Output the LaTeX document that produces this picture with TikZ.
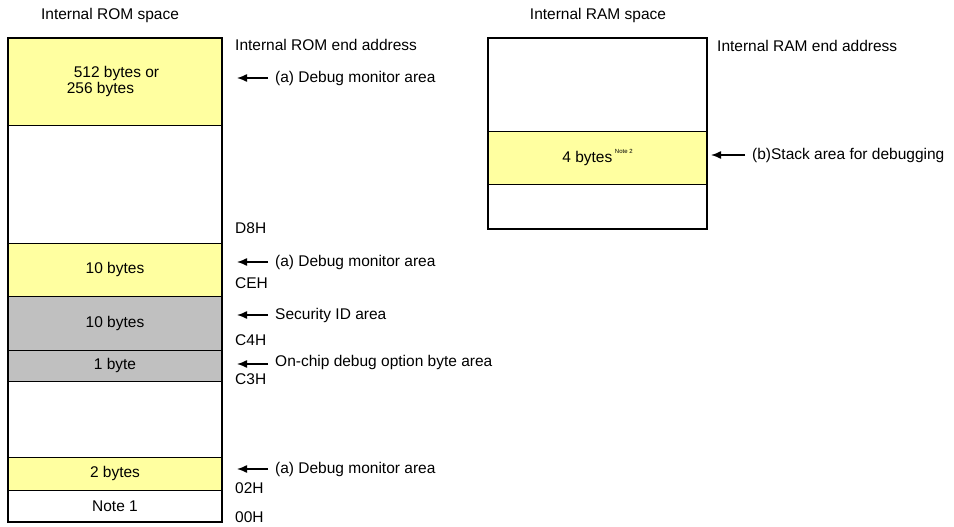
\documentclass[tikz,border=0pt]{standalone}
\usepackage{fontspec}
\setmainfont{Liberation Sans}
\usetikzlibrary{arrows.meta}
\definecolor{monyellow}{RGB}{255,255,160}
\definecolor{secgray}{RGB}{192,192,192}
\tikzset{
    seg/.style={draw,line width=1pt,inner sep=0pt,outer sep=0pt,anchor=north west},
    note/.style={inner sep=1pt,anchor=west},
    pointer/.style={-{Latex[length=10pt,width=8pt]},line width=1.4pt,shorten <=6pt},
    every node/.append style={font=\fontsize{15.5}{18}\selectfont}
}
\begin{document}
\begin{tikzpicture}[x=1pt,y=-1pt]
        \useasboundingbox (0,0) rectangle (954,527);
        \node (RomTitle) at (110,15) {Internal ROM space};
        \node [seg,fill=monyellow,minimum width=214pt,minimum height=87pt] (RomMonTop) at (8,38) {};
        \node [align=left] at ([xshift=-2pt]RomMonTop.center) {\hspace*{7pt}512 bytes or\\[-2pt]256 bytes};
        \node [seg,minimum width=214pt,minimum height=118pt] (RomFreeHigh) at (RomMonTop.south west) {};
        \node [seg,fill=monyellow,minimum width=214pt,minimum height=53.7pt] (RomMonMid) at (RomFreeHigh.south west) {10 bytes};
        \node [seg,fill=secgray,minimum width=214pt,minimum height=53.3pt] (RomSecId) at (RomMonMid.south west) {10 bytes};
        \node [seg,fill=secgray,minimum width=214pt,minimum height=31.7pt] (RomOcd) at (RomSecId.south west) {1 byte};
        \node [seg,minimum width=214pt,minimum height=75.3pt] (RomFreeLow) at (RomOcd.south west) {};
        \node [seg,fill=monyellow,minimum width=214pt,minimum height=33pt] (RomMonLow) at (RomFreeLow.south west) {2 bytes};
        \node [seg,minimum width=214pt,minimum height=32pt] (RomNote) at (RomMonLow.south west) {Note 1};
        \draw [line width=1.8pt] (RomMonTop.north west) rectangle (RomNote.south east);

        \node [note] (RomEnd) at (234,45) {Internal ROM end address};
        \node [note] (MonTop) at (274,78) {(a) Debug monitor area};
        \coordinate (MonTopTip) at (237,78);
        \draw [pointer] (MonTop) -- (MonTopTip);
        \node [note] (AdrD8) at (234,228) {D8H};
        \node [note] (MonMid) at (274,262) {(a) Debug monitor area};
        \coordinate (MonMidTip) at (237,262);
        \draw [pointer] (MonMid) -- (MonMidTip);
        \node [note] (AdrCE) at (234,283) {CEH};
        \node [note] (SecId) at (274,315) {Security ID area};
        \coordinate (SecIdTip) at (237,315);
        \draw [pointer] (SecId) -- (SecIdTip);
        \node [note] (AdrC4) at (234,340) {C4H};
        \node [note] (Ocd) at (274,362) {On-chip debug option byte area};
        \coordinate (OcdTip) at (237,364);
        \draw [pointer] (Ocd.west |- OcdTip) -- (OcdTip);
        \node [note] (AdrC3) at (234,379) {C3H};
        \node [note] (MonLow) at (274,469) {(a) Debug monitor area};
        \coordinate (MonLowTip) at (237,469);
        \draw [pointer] (MonLow) -- (MonLowTip);
        \node [note] (Adr02) at (234,488) {02H};
        \node [note] (Adr00) at (234,517) {00H};

        \node (RamTitle) at (598,15) {Internal RAM space};
        \node [seg,minimum width=219pt,minimum height=93pt] (RamHigh) at (488,38) {};
        \node [seg,fill=monyellow,minimum width=219pt,minimum height=53pt] (RamStack) at (RamHigh.south west) {4 bytes\,\raisebox{1.2ex}{\fontsize{6}{7}\selectfont Note 2}};
        \node [seg,minimum width=219pt,minimum height=45pt] (RamLow) at (RamStack.south west) {};
        \draw [line width=1.8pt] (RamHigh.north west) rectangle (RamLow.south east);

        \node [note] (RamEnd) at (716,46) {Internal RAM end address};
        \node [note] (Stack) at (751,155) {(b)Stack area for debugging};
        \coordinate (StackTip) at (711,155);
        \draw [pointer] (Stack) -- (StackTip);
    \end{tikzpicture}
\end{document}
